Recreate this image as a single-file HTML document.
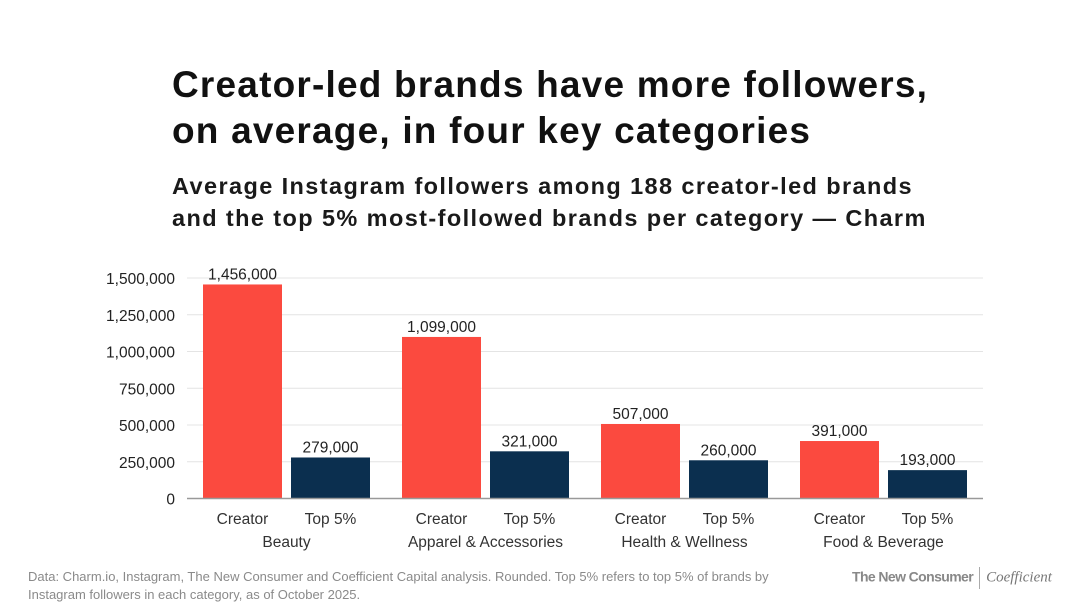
<!DOCTYPE html>
<html><head><meta charset="utf-8"><style>
body{margin:0;background:#fff;font-family:"Liberation Sans",sans-serif;}
#wrap{position:relative;width:1080px;height:608px;overflow:hidden;background:#fff}
.t{position:absolute;left:172px;color:#111;white-space:nowrap}
</style></head><body>
<div id="wrap">
<div class="t" style="top:62px;font-size:37px;font-weight:bold;line-height:46px;letter-spacing:1.2px">Creator-led brands have more followers,<br>on average, in four key categories</div>
<div class="t" style="top:170px;font-size:23.5px;font-weight:bold;line-height:32px;color:#1a1a1a;letter-spacing:1.4px">Average Instagram followers among 188 creator-led brands<br>and the top 5% most-followed brands per category — Charm</div>
<svg id="chart" width="1080" height="608" style="position:absolute;left:0;top:0"></svg>
<div style="position:absolute;left:28px;top:568px;font-size:13px;line-height:18px;color:#8a8a8a">Data: Charm.io, Instagram, The New Consumer and Coefficient Capital analysis. Rounded. Top 5% refers to top 5% of brands by<br>Instagram followers in each category, as of October 2025.</div>
<div style="position:absolute;left:852px;top:567px;font-size:14px;color:#777;white-space:nowrap"><span style="letter-spacing:-0.6px;font-weight:bold;color:#888">The New Consumer</span><span style="display:inline-block;width:1px;height:22px;background:#aaa;vertical-align:middle;margin:0 6px"></span><span style="font-family:'Liberation Serif',serif;font-style:italic;font-size:15px">Coefficient</span></div>
</div>
<script>
const categories=["Beauty","Apparel & Accessories","Health & Wellness","Food & Beverage"];
const creatorValues=[1456000,1099000,507000,391000];
const top5Values=[279000,321000,260000,193000];
const yTicks=[0,250000,500000,750000,1000000,1250000,1500000];
const seriesLabels=["Creator","Top 5%"];
const svg=document.getElementById('chart');const NS="http://www.w3.org/2000/svg";
const x0=187,x1=983,yb=498.5,yt=278,ymax=1500000;
const y=v=>yb-(v/ymax)*(yb-yt);
const gw=(x1-x0)/categories.length;
const fmt=v=>v.toLocaleString('en-US');
function mk(tag,attrs,txt){const e=document.createElementNS(NS,tag);for(const k in attrs)e.setAttribute(k,attrs[k]);if(txt!=null)e.textContent=txt;svg.appendChild(e);return e;}
yTicks.forEach(t=>{
 if(t>0){const g=mk('line',{x1:x0,x2:x1,y1:y(t),y2:y(t),stroke:'#e4e4e4','stroke-width':1});
 
 }
 const l=mk('text',{x:175,y:y(t)+6,'text-anchor':'end','font-size':15.5,fill:'#222','font-family':'Liberation Sans'},fmt(t));
 
 
});
categories.forEach((c,i)=>{
 const gx=x0+i*gw;
 [[creatorValues[i],'#fb4a3f',16],[top5Values[i],'#0b2f4f',104]].forEach((d,j)=>{
  const bx=gx+d[2],bw=79;
  const r=mk('rect',{x:bx,y:y(d[0]),width:bw,height:yb-y(d[0]),fill:d[1]});
  
  
  const v=mk('text',{x:bx+bw/2,y:y(d[0])-5,'text-anchor':'middle','font-size':15.5,fill:'#222','font-family':'Liberation Sans'},fmt(d[0]));
  
  
  const s=mk('text',{x:bx+bw/2,y:524,'text-anchor':'middle','font-size':15.5,fill:'#333','font-family':'Liberation Sans'},seriesLabels[j]);
  
  
 });
 const cl=mk('text',{x:gx+16+83.5,y:547,'text-anchor':'middle','font-size':15.5,fill:'#333','font-family':'Liberation Sans'},c);
 
 
});
const ax=mk('line',{x1:x0,x2:x1,y1:yb,y2:yb,stroke:'#999','stroke-width':1.5});


</script>
</body></html>
